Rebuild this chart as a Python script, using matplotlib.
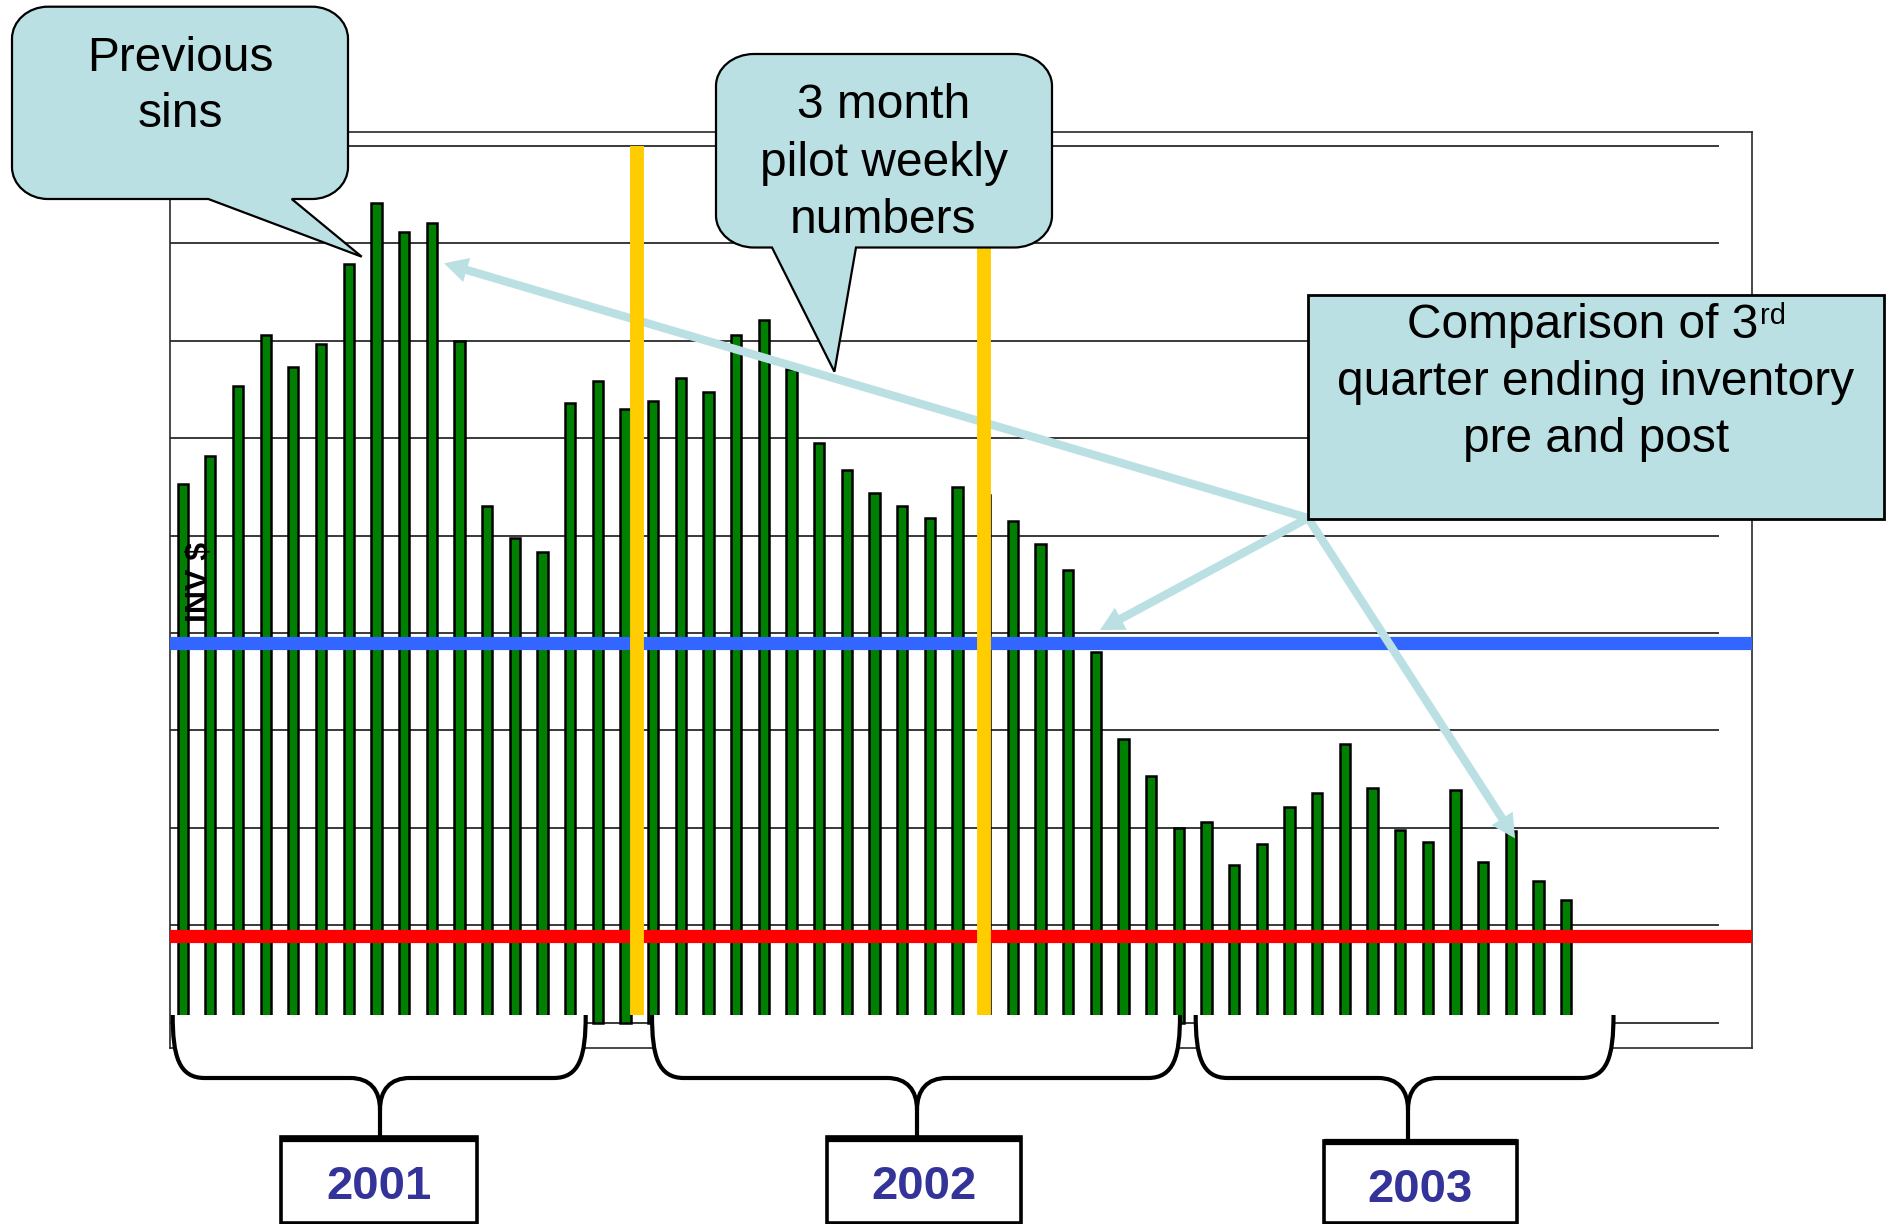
import numpy as np
import matplotlib
matplotlib.use("Agg")
import matplotlib.pyplot as plt
from matplotlib.path import Path
from matplotlib.patches import PathPatch, Rectangle
from matplotlib.lines import Line2D

plt.rcParams["font.family"] = ["Liberation Sans", "DejaVu Sans"]

# ---------------- data ----------------
weeks = np.arange(51)
inventory = [5.53, 5.82, 6.53, 7.06, 6.73, 6.97, 7.79, 8.41, 8.12, 8.21,
             7.00, 5.30, 4.97, 4.83, 6.36, 6.59, 6.30, 6.38, 6.62, 6.47,
             7.06, 7.21, 6.71, 5.95, 5.67, 5.44, 5.30, 5.18, 5.50, 5.42,
             5.15, 4.91, 4.65, 3.80, 2.91, 2.53, 2.00, 2.06, 1.62, 1.83,
             2.21, 2.36, 2.86, 2.41, 1.98, 1.85, 2.39, 1.65, 1.97, 1.45, 1.26]
pre_level = 3.90      # 3rd quarter ending inventory, before the pilot
post_level = 0.89     # 3rd quarter ending inventory, after the pilot
pilot_weeks = [16.42, 28.96]   # start / end of the 3 month pilot
year_labels = ["2001", "2002", "2003"]

# ---------------- canvas ----------------
W, H = 1893, 1224
fig = plt.figure(figsize=(W / 100, H / 100), dpi=100)
fig.patch.set_facecolor("white")


def F(x, y):
    """pixel position (origin top-left) -> figure fraction"""
    return (x / W, 1 - y / H)


# plot frame in pixels and the bar / gridline pitch
FRAME_L, FRAME_T, FRAME_R, FRAME_B = 170, 131.5, 1752, 1048
X0_PX, PITCH_PX = 182.7, 27.67
Y0_PX, UNIT_PX = 1022.5, 97.4
GRID_END_PX = 1718.5

ax = fig.add_axes([FRAME_L / W, 1 - FRAME_B / H,
                   (FRAME_R - FRAME_L) / W, (FRAME_B - FRAME_T) / H])
ax.set_xlim((FRAME_L - X0_PX) / PITCH_PX, (FRAME_R - X0_PX) / PITCH_PX)
ax.set_ylim((Y0_PX - FRAME_B) / UNIT_PX, (Y0_PX - FRAME_T) / UNIT_PX)
ax.set_xticks([])
ax.set_yticks([])
for sp in ax.spines.values():
    sp.set_color("#2a2a2a")
    sp.set_linewidth(1.2)

GRID = "#2a2a2a"
ax.hlines(range(10), ax.get_xlim()[0], (GRID_END_PX - X0_PX) / PITCH_PX,
          colors=GRID, lw=1.3, zorder=1)

ax.bar(weeks, inventory, width=0.37, color="#008000", edgecolor="black",
       linewidth=1.8, zorder=2)

ax.axhline(pre_level, color="#3366FF", lw=9.5, zorder=4)
ax.axhline(post_level, color="#FF0000", lw=9.5, zorder=4)

# pointers from the comparison box
CALLOUT = "#BBE0E3"
origin = F(1308, 518)
for tip in [(444, 263.3), (1100, 630), (1515, 838.3)]:
    ax.annotate("", xy=F(*tip), xycoords="figure fraction",
                xytext=origin, textcoords="figure fraction",
                arrowprops=dict(arrowstyle="simple,head_length=17,head_width=18,tail_width=6",
                                mutation_scale=1, color=CALLOUT, lw=0,
                                shrinkA=0, shrinkB=0),
                annotation_clip=False, zorder=5)

ax.vlines(pilot_weeks, (Y0_PX - 1015) / UNIT_PX, 9, colors="#FFCC00", lw=10, zorder=6)


# ---------------- callouts ----------------
def to_fig(verts):
    return [F(x, y) for x, y in verts]


def callout(x0, y0, x1, y1, rx, ry, tail=None):
    k = 0.5523
    V, C = [], []

    def mv(p):
        V.append(p); C.append(Path.MOVETO)

    def ln(p):
        V.append(p); C.append(Path.LINETO)

    def cb(c1, c2, p):
        V.extend([c1, c2, p]); C.extend([Path.CURVE4] * 3)

    mv((x0 + rx, y0))
    ln((x1 - rx, y0))
    cb((x1 - rx + k * rx, y0), (x1, y0 + ry - k * ry), (x1, y0 + ry))
    ln((x1, y1 - ry))
    cb((x1, y1 - ry + k * ry), (x1 - rx + k * rx, y1), (x1 - rx, y1))
    if tail is not None:
        bl, br, tip = tail
        ln((br, y1))
        ln(tip)
        ln((bl, y1))
    ln((x0 + rx, y1))
    cb((x0 + rx - k * rx, y1), (x0, y1 - ry + k * ry), (x0, y1 - ry))
    ln((x0, y0 + ry))
    cb((x0, y0 + ry - k * ry), (x0 + rx - k * rx, y0), (x0 + rx, y0))
    V.append((x0 + rx, y0)); C.append(Path.CLOSEPOLY)
    p = PathPatch(Path(to_fig(V), C), facecolor=CALLOUT, edgecolor="black",
                  lw=1.6, transform=fig.transFigure, zorder=2)
    fig.add_artist(p)


callout(12, 6.7, 348, 199, 36, 32, tail=(208.3, 291.7, (361.7, 256.7)))
callout(716, 54, 1052, 247.5, 38, 32, tail=(772, 856, (834.4, 371.7)))
fig.add_artist(Rectangle(F(1308, 518.5), (1884 - 1308) / W, (518.5 - 295) / H,
                         facecolor=CALLOUT, edgecolor="black", lw=2.0,
                         transform=fig.transFigure, zorder=2))

FS = 34.5
TXT = dict(ha="center", va="baseline", fontsize=FS, color="black", zorder=3)
for s, yb in [("Previous", 70.7), ("sins", 127.3)]:
    fig.text(*F(180, yb), s, **TXT)
for s, yb in [("3 month", 118.3), ("pilot weekly", 175.8), ("numbers", 233.3)]:
    fig.text(*F(883.5, yb), s, **TXT)
for s, yb in [("quarter ending inventory", 395.2), ("pre and post", 452.4)]:
    fig.text(*F(1596, yb), s, **TXT)

# first line carries a superscript: measure and centre the pair
renderer = fig.canvas.get_renderer()
t_main = fig.text(0, 0, "Comparison of 3", ha="left", va="baseline",
                  fontsize=FS, zorder=3)
t_sup = fig.text(0, 0, "rd", ha="left", va="baseline", fontsize=21, zorder=3)
w_main = t_main.get_window_extent(renderer).width
w_sup = t_sup.get_window_extent(renderer).width
x_start = 1596 - (w_main + w_sup) / 2
t_main.set_position(F(x_start, 337.9))
t_sup.set_position(F(x_start + w_main + 1, 324.5))

fig.text(*F(200, 582), "INV $", rotation=90, fontsize=23, fontweight="bold",
         ha="center", va="center", zorder=3)


# ---------------- year braces ----------------
def brace(x0, x1, xs, ytop, yh, ytip, ybot):
    left = [(x0, ytop), (x0, yh - 22), (x0 + 6, yh), (x0 + 32, yh),
            (xs - 30, yh), (xs - 10, yh), (xs, yh + 12), (xs, ytip)]
    right = [(xs, yh + 12), (xs + 10, yh), (xs + 30, yh),
             (x1 - 32, yh), (x1 - 6, yh), (x1, yh - 22), (x1, ytop)]
    lcodes = [Path.MOVETO, Path.CURVE4, Path.CURVE4, Path.CURVE4,
              Path.LINETO, Path.CURVE4, Path.CURVE4, Path.CURVE4]
    rcodes = [Path.CURVE4, Path.CURVE4, Path.CURVE4,
              Path.LINETO, Path.CURVE4, Path.CURVE4, Path.CURVE4]
    # white backing that hides the bar feet
    fv = left + right + [(x0, ytop)]
    fc = lcodes + rcodes + [Path.CLOSEPOLY]
    fig.add_artist(PathPatch(Path(to_fig(fv), fc), facecolor="white",
                             edgecolor="none", transform=fig.transFigure, zorder=1))
    # outline with the stem
    sv = left + [(xs, ybot), (xs, ytip)] + right
    sc = lcodes + [Path.LINETO, Path.MOVETO] + rcodes
    fig.add_artist(PathPatch(Path(to_fig(sv), sc), facecolor="none",
                             edgecolor="black", lw=3.0, transform=fig.transFigure,
                             zorder=1.5))


brace_specs = [(172.7, 585.7, 380, 1138), (652, 1180, 917, 1138), (1195.7, 1613.5, 1408, 1141)]
for x0, x1, xs, yb in brace_specs:
    brace(x0, x1, xs, 1015, 1078, 1110, yb)

year_boxes = [(281, 1137.3, 477, 1222.5), (827, 1137, 1020.5, 1222.5), (1323.7, 1140.7, 1517, 1222.5)]
year_base = [1199, 1199, 1202.3]
for (x0, y0, x1, y1), lab, yb in zip(year_boxes, year_labels, year_base):
    fig.add_artist(Rectangle(F(x0, y1), (x1 - x0) / W, (y1 - y0) / H,
                             facecolor="white", edgecolor="black", lw=2.6,
                             transform=fig.transFigure, zorder=2))
    fig.add_artist(Line2D([x0 / W, x1 / W], [1 - (y0 + 1.5) / H] * 2, color="black",
                          lw=4.5, solid_capstyle="butt", transform=fig.transFigure, zorder=2.1))
    fig.text(*F((x0 + x1) / 2, yb), lab, ha="center", va="baseline",
             fontsize=34, fontweight="bold", color="#333399", zorder=3)

fig.savefig("out.png", dpi=100, facecolor="white")
